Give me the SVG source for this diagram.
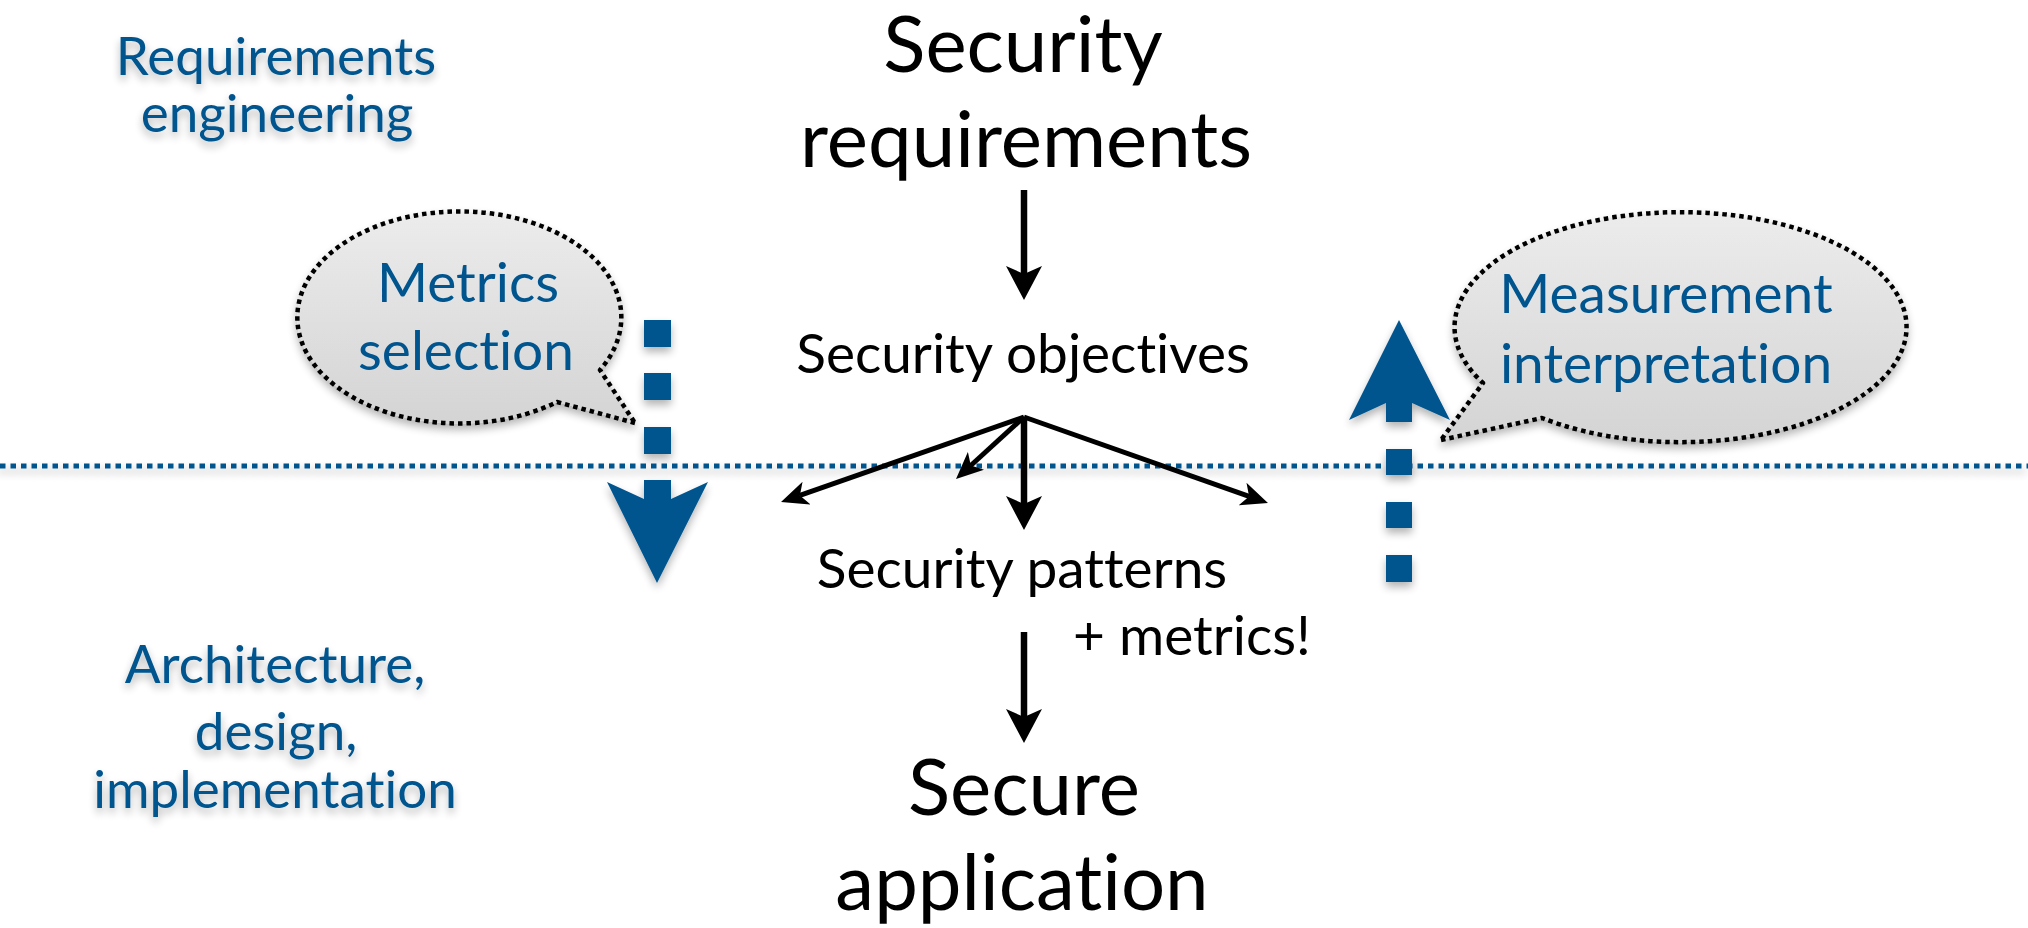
<svg xmlns="http://www.w3.org/2000/svg" width="2028" height="928" viewBox="0 0 2028 928">
<defs>
<style>
text{font-family:Lato,"Open Sans","Liberation Sans",sans-serif;font-variant-ligatures:none;font-feature-settings:"liga" 0,"clig" 0}
.big{font-size:78px;fill:#000;text-anchor:middle}
.mid{font-size:55px;fill:#000;text-anchor:middle}
.lbl{font-size:53px;fill:#00558f;text-anchor:middle}
.bub{font-size:55px;fill:#00558f;text-anchor:middle}
.conn{stroke:#000;stroke-width:5;fill:none}
.vconn{stroke:#000;stroke-width:6.5;fill:none}
.bubble{fill:url(#bg);stroke:#000;stroke-width:4.5;stroke-dasharray:4.5 4;stroke-linejoin:round}
.blue{fill:#00558f}
</style>
<linearGradient id="bg" x1="0" y1="0" x2="0" y2="1">
<stop offset="0" stop-color="#ececec"/>
<stop offset="1" stop-color="#d4d4d4"/>
</linearGradient>
<filter id="sh" filterUnits="userSpaceOnUse" x="0" y="0" width="2028" height="928">
<feGaussianBlur in="SourceAlpha" stdDeviation="4"/>
<feOffset dy="5" result="o"/>
<feComponentTransfer in="o" result="s"><feFuncA type="linear" slope="0.3"/></feComponentTransfer>
<feMerge><feMergeNode in="s"/><feMergeNode in="SourceGraphic"/></feMerge>
</filter>
<marker id="ahb" viewBox="0 -18 34 36" refX="8" refY="0" markerWidth="34" markerHeight="36" markerUnits="userSpaceOnUse" orient="auto">
<path d="M0,-18 L34,0 L0,18 L8,0 Z" fill="#000"/>
</marker>
<marker id="ahs" viewBox="0 -12 27 24" refX="7" refY="0" markerWidth="27" markerHeight="24" markerUnits="userSpaceOnUse" orient="auto">
<path d="M0,-12 L27,0 L0,12 L7,0 Z" fill="#000"/>
</marker>
</defs>
<rect width="2028" height="928" fill="#fff"/>

<g id="divider" filter="url(#sh)">
<line x1="0" y1="466" x2="2028" y2="466" stroke="#00558f" stroke-width="5" stroke-dasharray="5.5 5"/>
</g>

<g id="label-req" filter="url(#sh)">
<text class="lbl" x="276" y="75">Requirements</text>
<text class="lbl" x="277" y="132">engineering</text>
</g>
<g id="label-arch" filter="url(#sh)">
<text class="lbl" x="275" y="683">Architecture,</text>
<text class="lbl" x="276" y="750">design,</text>
<text class="lbl" x="275" y="808">implementation</text>
</g>

<g id="bubble-metrics" filter="url(#sh)">
<path class="bubble" d="M635,423 L557,402 A162 106 0 1 1 600,370 Z"/>
<text class="bub" x="468" y="302">Metrics</text>
<text class="bub" x="466" y="370">selection</text>
</g>
<g id="bubble-measure" filter="url(#sh)">
<path class="bubble" d="M1441,440 L1542,418 A226 115 0 1 0 1483,383 Z"/>
<text class="bub" x="1666" y="313">Measurement</text>
<text class="bub" x="1666" y="383">interpretation</text>
</g>

<g id="arrow-down-blue" class="blue" filter="url(#sh)">
<rect x="644" y="320" width="27" height="27"/>
<rect x="644" y="373" width="27" height="27"/>
<rect x="644" y="427" width="27" height="27"/>
<polygon points="644,480 671,480 671,499 708,482 657,583 607,482 644,499"/>
</g>
<g id="arrow-up-blue" class="blue" filter="url(#sh)">
<rect x="1386" y="449" width="26" height="26"/>
<rect x="1386" y="502" width="26" height="26"/>
<rect x="1386" y="555" width="26" height="27"/>
<polygon points="1386,422 1386,403 1349,420 1399,320 1450,420 1412,403 1412,422"/>
</g>

<g id="node-sec-req">
<text class="big" x="1023" y="72">Security</text>
<text class="big" x="1026" y="167">requirements</text>
</g>
<g id="node-sec-obj">
<text class="mid" x="1023" y="373">Security objectives</text>
</g>
<g id="node-sec-pat">
<text class="mid" x="1022" y="588">Security patterns</text>
<text class="mid" x="1073" y="655" style="text-anchor:start">+ metrics!</text>
</g>
<g id="node-sec-app">
<text class="big" x="1024" y="815">Secure</text>
<text class="big" x="1022" y="910">application</text>
</g>

<g id="connectors">
<line class="vconn" x1="1024" y1="190" x2="1024" y2="274" marker-end="url(#ahb)"/>
<line class="conn" x1="1024" y1="417" x2="799.9" y2="495.4" marker-end="url(#ahs)"/>
<line class="conn" x1="1024" y1="417" x2="970.8" y2="465.5" marker-end="url(#ahs)"/>
<line class="vconn" x1="1024" y1="417" x2="1024" y2="504" marker-end="url(#ahb)"/>
<line class="conn" x1="1024" y1="417" x2="1249.1" y2="496.4" marker-end="url(#ahs)"/>
<line class="vconn" x1="1024" y1="632" x2="1024" y2="717" marker-end="url(#ahb)"/>
</g>
</svg>
